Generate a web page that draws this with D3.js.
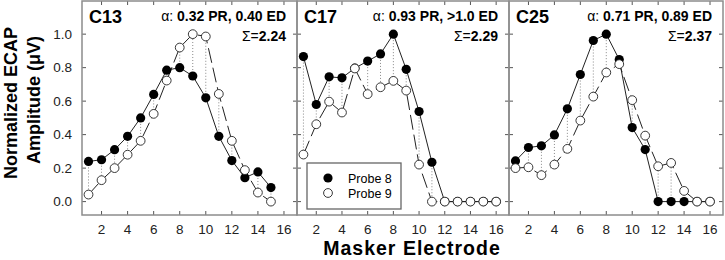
<!DOCTYPE html>
<html>
<head>
<meta charset="utf-8">
<script src="https://cdn.jsdelivr.net/npm/d3@7"></script>
<style>
  body { margin: 0; background: #fff; }
  svg { font-family: "Liberation Sans", Arial, sans-serif; display: block; }
  .frame { fill: none; stroke: #8c8c8c; stroke-width: 1.5px; }
  .tick { stroke: #555; stroke-width: 1px; }
  .ticklabel { font-size: 13.5px; fill: #222; }
  .probe8 { fill: none; stroke: #222; stroke-width: 1px; }
  .probe9 { fill: none; stroke: #222; stroke-width: 1px; stroke-dasharray: 15,5; }
  .connector { stroke: #888; stroke-width: 1px; stroke-dasharray: 1,2; }
</style>
</head>
<body>
<div id="container"></div>
<script>
// Chart data
var electrodes = [1, 2, 3, 4, 5, 6, 7, 8, 9, 10, 11, 12, 13, 14, 15, 16];
var xTicks = [2, 4, 6, 8, 10, 12, 14, 16];
var yTicks = [0, 0.2, 0.4, 0.6, 0.8, 1.0];

var panelNames = ["C13", "C17", "C25"];
var alphaTexts = ["0.32 PR, 0.40 ED", "0.93 PR, >1.0 ED", "0.71 PR, 0.89 ED"];
var sigmaTexts = ["2.24", "2.29", "2.37"];

var c13Probe8 = [0.24, 0.25, 0.31, 0.39, 0.50, 0.64, 0.785, 0.80, 0.75, 0.62, 0.39, 0.245, 0.143, 0.177, 0.084];
var c13Probe9 = [0.042, 0.128, 0.20, 0.28, 0.363, 0.524, 0.723, 0.92, 1.0, 0.986, 0.643, 0.363, 0.188, 0.054, 0.0];
var c17Probe8 = [0.866, 0.58, 0.745, 0.739, 0.797, 0.839, 0.882, 1.0, 0.79, 0.538, 0.235, 0, 0, 0, 0, 0];
var c17Probe9 = [0.281, 0.462, 0.597, 0.532, 0.795, 0.642, 0.683, 0.721, 0.663, 0.221, 0, 0, 0, 0, 0, 0];
var c25Probe8 = [0.243, 0.323, 0.333, 0.398, 0.554, 0.759, 0.962, 1.0, 0.848, 0.442, 0.311, 0, 0, 0, 0, 0];
var c25Probe9 = [0.20, 0.205, 0.158, 0.221, 0.315, 0.484, 0.627, 0.771, 0.821, 0.606, 0.394, 0.211, 0.231, 0.064, 0, 0];

var probe8Sets = [c13Probe8, c17Probe8, c25Probe8];
var probe9Sets = [c13Probe9, c17Probe9, c25Probe9];

// SVG dimensions
var width = 725,
    height = 260;
var plotTop = 1, plotBottom = 215;
var panelLefts = [82, 297, 509, 723];

var svg = d3.select("#container")
    .append("svg")
    .attr("width", width)
    .attr("height", height);

var yScale = d3.scaleLinear()
    .domain([-0.08, 1.198])
    .range([plotBottom, plotTop]);

function toPoints(values) {
    return values.map(function(v, i) { return { x: electrodes[i], y: v }; });
}

panelNames.forEach(function(name, p) {
    var x0 = panelLefts[p], x1 = panelLefts[p + 1];
    var xScale = d3.scaleLinear()
        .domain([0.5, 17])
        .range([x0, x1]);
    var g = svg.append("g");

    // ticks pointing inward on all four sides
    xTicks.forEach(function(t) {
        g.append("line").attr("class", "tick")
            .attr("x1", xScale(t)).attr("x2", xScale(t))
            .attr("y1", plotBottom).attr("y2", plotBottom - 4);
        g.append("line").attr("class", "tick")
            .attr("x1", xScale(t)).attr("x2", xScale(t))
            .attr("y1", plotTop).attr("y2", plotTop + 4);
        g.append("text").attr("class", "ticklabel")
            .attr("x", xScale(t)).attr("y", 234)
            .attr("text-anchor", "middle")
            .text(t);
    });
    yTicks.forEach(function(t) {
        g.append("line").attr("class", "tick")
            .attr("x1", x0).attr("x2", x0 + 4)
            .attr("y1", yScale(t)).attr("y2", yScale(t));
        g.append("line").attr("class", "tick")
            .attr("x1", x1).attr("x2", x1 - 4)
            .attr("y1", yScale(t)).attr("y2", yScale(t));
        if (p == 0) {
            g.append("text").attr("class", "ticklabel")
                .attr("x", x0 - 10).attr("y", yScale(t) + 4.5)
                .attr("text-anchor", "end")
                .text(t.toFixed(1));
        }
    });

    var pts8 = toPoints(probe8Sets[p]);
    var pts9 = toPoints(probe9Sets[p]);

    // Dotted connectors between the two probes
    g.selectAll(".connector")
        .data(pts9.filter(function(d, i) { return i < pts8.length; }))
        .enter()
        .append("line")
        .attr("class", "connector")
        .attr("x1", function(d) { return xScale(d.x); })
        .attr("x2", function(d) { return xScale(d.x); })
        .attr("y1", function(d, i) { return yScale(pts8[i].y); })
        .attr("y2", function(d) { return yScale(d.y); });

    var line = d3.line()
        .x(function(d) { return xScale(d.x); })
        .y(function(d) { return yScale(d.y); });

    g.append("path").attr("class", "probe8").attr("d", line(pts8));
    g.append("path").attr("class", "probe9").attr("d", line(pts9));

    g.selectAll(".m8")
        .data(pts8)
        .enter()
        .append("circle")
        .attr("class", "m8")
        .attr("cx", function(d) { return xScale(d.x); })
        .attr("cy", function(d) { return yScale(d.y); })
        .attr("r", 4.6)
        .attr("fill", "#000");

    g.selectAll(".m9")
        .data(pts9)
        .enter()
        .append("circle")
        .attr("class", "m9")
        .attr("cx", function(d) { return xScale(d.x); })
        .attr("cy", function(d) { return yScale(d.y); })
        .attr("r", 4.4)
        .attr("fill", "#fff")
        .attr("stroke", "#222")
        .attr("stroke-width", 0.9);

    // Panel labels
    g.append("text")
        .attr("x", x0 + 7).attr("y", 23)
        .attr("font-size", "18px").attr("font-weight", "bold")
        .text(name);
    var a = g.append("text")
        .attr("x", x1 - 11).attr("y", 20.5)
        .attr("text-anchor", "end")
        .attr("font-size", "14px");
    a.append("tspan").text("\u03b1: ");
    a.append("tspan").attr("font-weight", "bold").text(alphaTexts[p]);
    var s = g.append("text")
        .attr("x", x1 - 11).attr("y", 40.5)
        .attr("text-anchor", "end")
        .attr("font-size", "14px");
    s.append("tspan").text("\u03a3=");
    s.append("tspan").attr("font-weight", "bold").text(sigmaTexts[p]);

    g.append("rect").attr("class", "frame")
        .attr("x", x0).attr("y", plotTop)
        .attr("width", x1 - x0).attr("height", plotBottom - plotTop);
});

// Legend in the middle panel
var legend = svg.append("g");
legend.append("rect")
    .attr("x", 307).attr("y", 163)
    .attr("width", 94).attr("height", 46)
    .attr("fill", "#fff")
    .attr("stroke", "#666")
    .attr("stroke-width", 1.3);
legend.append("circle").attr("cx", 328).attr("cy", 178).attr("r", 4.6).attr("fill", "#000");
legend.append("circle").attr("cx", 328).attr("cy", 193).attr("r", 4.4)
    .attr("fill", "#fff").attr("stroke", "#222").attr("stroke-width", 0.9);
legend.append("text").attr("x", 348).attr("y", 182.5).attr("font-size", "12.5px").text("Probe 8");
legend.append("text").attr("x", 348).attr("y", 197.5).attr("font-size", "12.5px").text("Probe 9");

// Axis titles
svg.append("text")
    .attr("transform", "translate(17,103) rotate(-90)")
    .attr("text-anchor", "middle")
    .attr("font-size", "18px").attr("font-weight", "bold")
    .text("Normalized ECAP");
svg.append("text")
    .attr("transform", "translate(40,100) rotate(-90)")
    .attr("text-anchor", "middle")
    .attr("font-size", "18px").attr("font-weight", "bold")
    .text("Amplitude (\u03bcV)");
svg.append("text")
    .attr("x", 412).attr("y", 255)
    .attr("text-anchor", "middle")
    .attr("font-size", "19.5px").attr("font-weight", "bold")
    .attr("letter-spacing", "1px")
    .text("Masker Electrode");
</script>
</body>
</html>
